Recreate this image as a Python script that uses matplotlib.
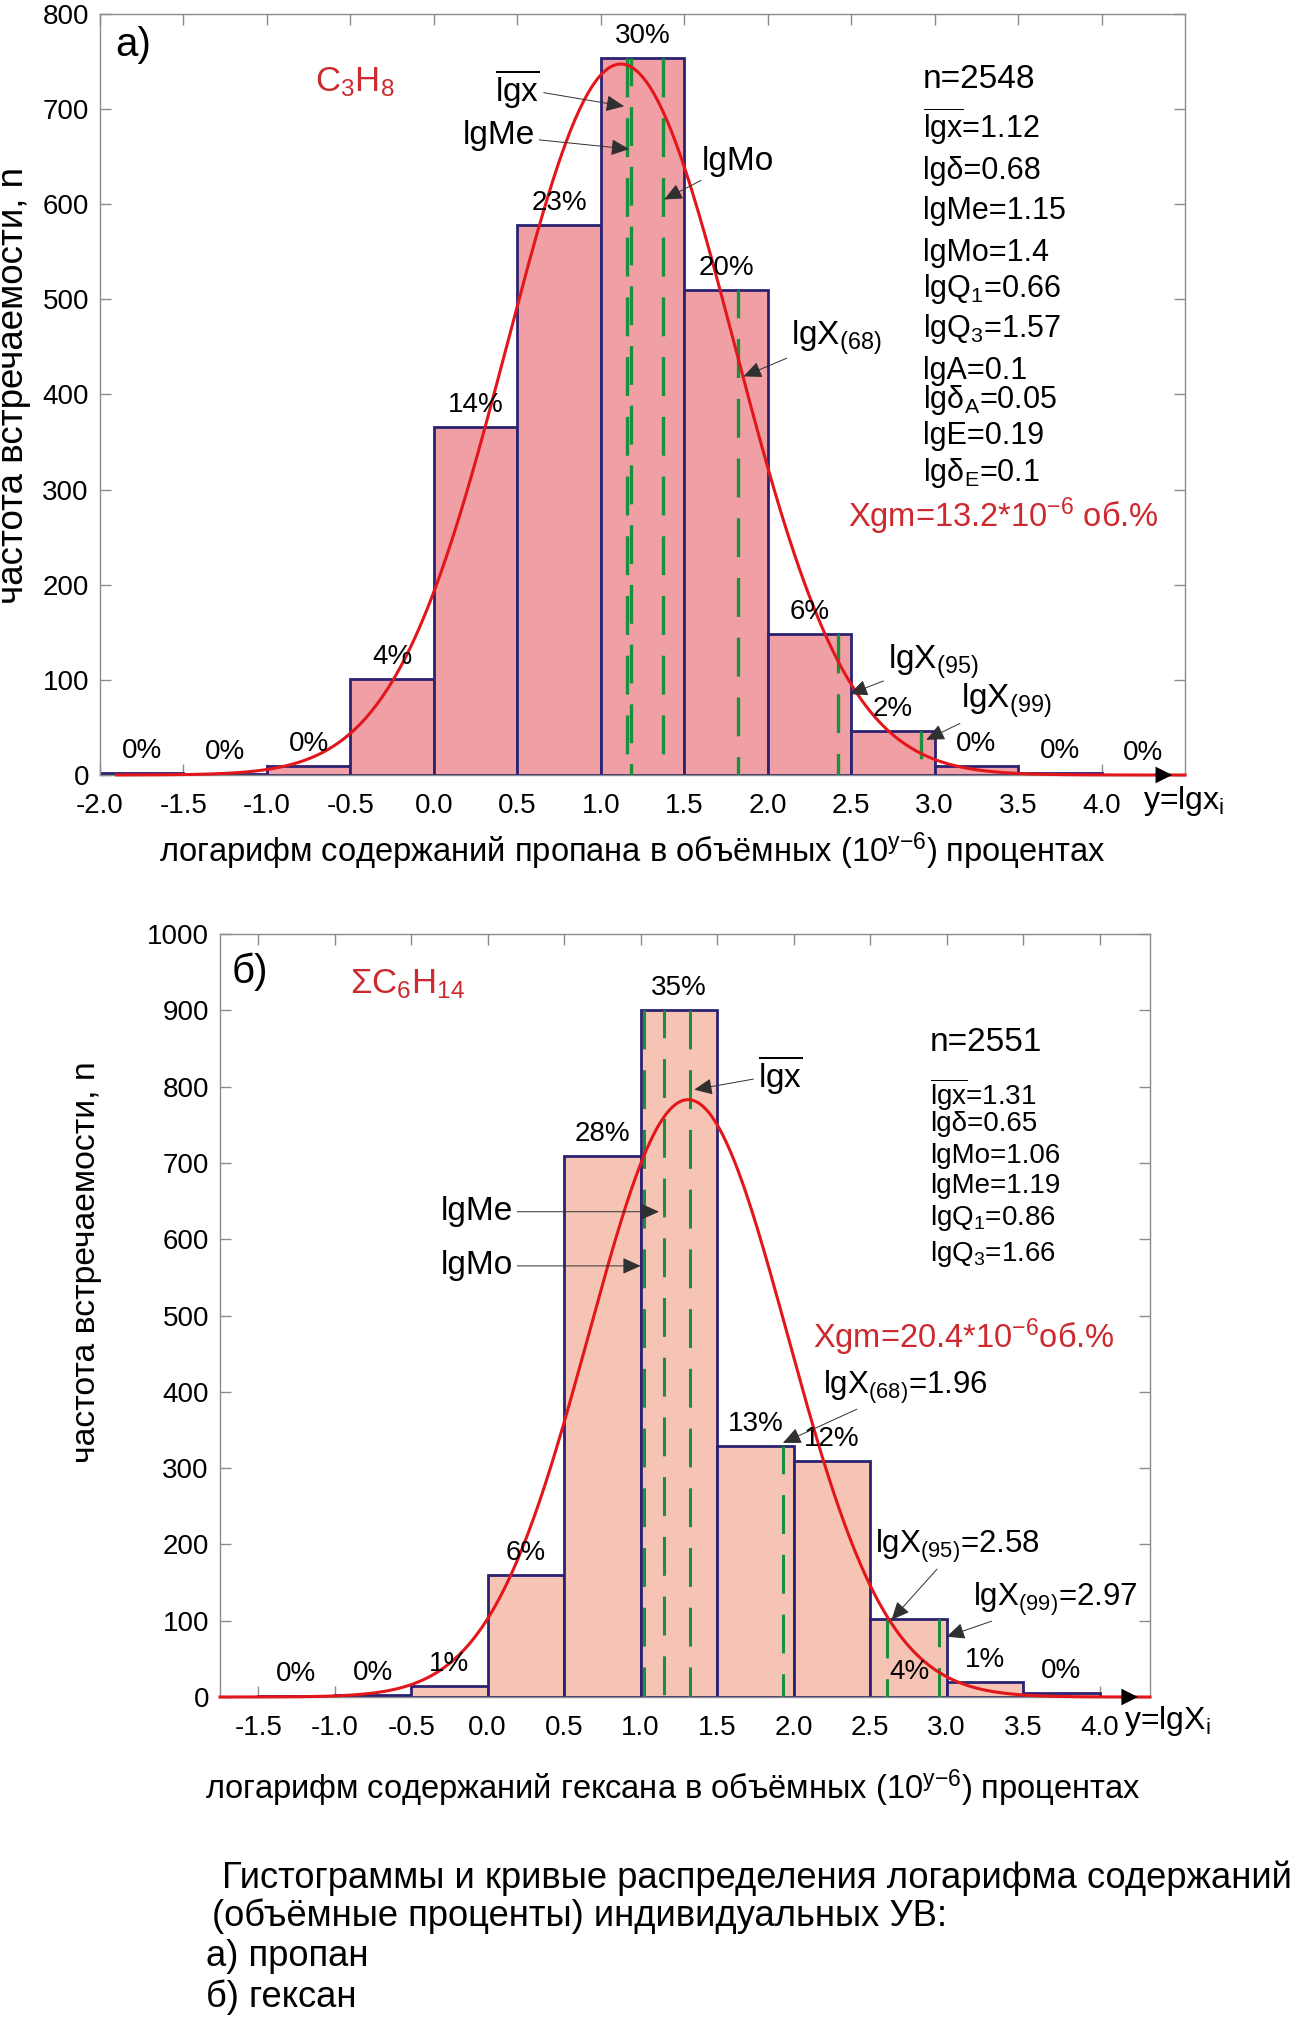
import numpy as np
import matplotlib.pyplot as plt

FONT = "Liberation Sans"
plt.rcParams["font.family"] = [FONT, "DejaVu Sans"]
plt.rcParams["mathtext.fontset"] = "custom"
plt.rcParams["mathtext.rm"] = FONT
plt.rcParams["mathtext.it"] = FONT
plt.rcParams["mathtext.default"] = "regular"
plt.rcParams["lines.scale_dashes"] = False

BIN_WIDTH = 0.5

# а) пропан
A_BINS = [-2.0, -1.5, -1.0, -0.5, 0.0, 0.5, 1.0, 1.5, 2.0, 2.5, 3.0, 3.5, 4.0]
A_COUNTS = [2, 1, 9, 101, 366, 578, 754, 510, 148, 46, 9, 2, 0]
A_PCT = ["0%", "0%", "0%", "4%", "14%", "23%", "30%", "20%", "6%", "2%", "0%", "0%", "0%"]
A_N, A_MEAN, A_SD = 2548, 1.12, 0.68
# lgx, lgMe, lgMo, lgX(68), lgX(95), lgX(99) as drawn
A_LINES = [1.16, 1.18, 1.37, 1.82, 2.42, 2.92]
A_STATS = ["n=2548", r"$\overline{lgx}$=1.12", "lgδ=0.68", "lgMe=1.15", "lgMo=1.4",
           "lgQ$_1$=0.66", "lgQ$_3$=1.57", "lgA=0.1", "lgδ$_A$=0.05", "lgE=0.19",
           "lgδ$_E$=0.1"]
A_XGM = "Xgm=13.2*10$^{{-}6}$ об.%"
A_XTICKS = [-2.0, -1.5, -1.0, -0.5, 0.0, 0.5, 1.0, 1.5, 2.0, 2.5, 3.0, 3.5, 4.0]
A_YTICKS = [0, 100, 200, 300, 400, 500, 600, 700, 800]

# б) гексан
B_BINS = [-1.5, -1.0, -0.5, 0.0, 0.5, 1.0, 1.5, 2.0, 2.5, 3.0, 3.5]
B_COUNTS = [1, 2, 14, 160, 709, 900, 329, 309, 102, 20, 5]
B_PCT = ["0%", "0%", "1%", "6%", "28%", "35%", "13%", "12%", "4%", "1%", "0%"]
B_N, B_MEAN, B_SD = 2551, 1.31, 0.65
# lgMo, lgMe, lgx, lgX(68), lgX(95), lgX(99) as drawn
B_LINES = [1.02, 1.15, 1.32, 1.93, 2.61, 2.95]
B_STATS = ["n=2551", r"$\overline{lgx}$=1.31", "lgδ=0.65", "lgMo=1.06", "lgMe=1.19",
           "lgQ$_1$=0.86", "lgQ$_3$=1.66"]
B_XGM = "Xgm=20.4*10$^{{-}6}$об.%"
B_XTICKS = [-1.5, -1.0, -0.5, 0.0, 0.5, 1.0, 1.5, 2.0, 2.5, 3.0, 3.5, 4.0]
B_YTICKS = [0, 100, 200, 300, 400, 500, 600, 700, 800, 900, 1000]

CAPTION = ["Гистограммы и кривые распределения логарифма содержаний",
           "(объёмные проценты) индивидуальных УВ:",
           "а) пропан",
           "б) гексан"]

EDGE = "#2b2272"
RED = "#e3161b"
DARKRED = "#cc2a2e"
GREEN = "#1a8f3c"
SPINE = "#8c8c8c"

W, H = 1290, 2017


def px_axes(left, top, right, bottom):
    return [left / W, 1 - bottom / H, (right - left) / W, (bottom - top) / H]


def pct_label(ax, x, y, p):
    ax.annotate(p, (x, y), xytext=(0, 16), textcoords="offset points",
                ha="center", va="center", fontsize=20, zorder=5)


def base_panel(ax, bins, counts, n, mean, sd, lines, xlim, ylim, xticks, yticks,
               fill, curve_from, green_lw):
    ax.bar(bins, counts, width=BIN_WIDTH, align="edge", color=fill,
           edgecolor=EDGE, linewidth=2.0, zorder=2)
    # normal curve for the printed n, mean and sigma
    x = np.linspace(curve_from, xlim[1], 500)
    y = n * BIN_WIDTH / (sd * np.sqrt(2 * np.pi)) * np.exp(-0.5 * ((x - mean) / sd) ** 2)
    # vertical dashed markers up to the bar they fall in
    for i, lx in enumerate(lines):
        k = int(np.searchsorted(bins, lx, side="right") - 1)
        ax.plot([lx, lx], [counts[k], 0], color=GREEN, lw=green_lw,
                linestyle=(8 * (i % 2), (28, 15)), zorder=3)
    ax.plot(x, y, color=RED, lw=2.2, zorder=4, clip_on=False)
    ax.set_xlim(*xlim)
    ax.set_ylim(*ylim)
    ax.set_xticks(xticks)
    ax.set_xticklabels([f"{t:.1f}" for t in xticks])
    ax.set_yticks(yticks)
    ax.tick_params(direction="in", length=8, width=1, color=SPINE, top=True, right=True,
                   labelsize=20)
    ax.tick_params(axis="x", pad=13)
    ax.tick_params(axis="y", pad=8)
    for s in ax.spines.values():
        s.set_color(SPINE)
        s.set_linewidth(1)
    ax.annotate("", xy=(xlim[1] - 0.06, 0), xytext=(xlim[1] - 0.3, 0),
                arrowprops=dict(arrowstyle="-|>", color="black", lw=0, mutation_scale=30),
                annotation_clip=False, zorder=6)


def arrow(ax, text, tip, pos, ha="center", size=24):
    ax.annotate(text, xy=tip, xytext=pos, ha=ha, va="center", fontsize=size, zorder=7,
                arrowprops=dict(arrowstyle="-|>,head_length=0.4,head_width=0.18",
                                color="#303030", lw=0.7, mutation_scale=28,
                                shrinkA=1, shrinkB=0))


fig = plt.figure(figsize=(W / 100, H / 100), dpi=100)

# ---------- panel а
ax = fig.add_axes(px_axes(100, 14, 1185, 775))
base_panel(ax, A_BINS, A_COUNTS, A_N, A_MEAN, A_SD, A_LINES, (-2.0, 4.5), (0, 800),
           A_XTICKS, A_YTICKS, "#f0a0a5", -1.9, 2.4)
for b, c, p in zip(A_BINS, A_COUNTS, A_PCT):
    pct_label(ax, b + BIN_WIDTH / 2, c, p)
ax.text(0.014, 0.959, "а)", transform=ax.transAxes, fontsize=29, ha="left", va="center")
ax.text(0.198, 0.91, "C$_3$H$_8$", transform=ax.transAxes, fontsize=25, color=DARKRED,
        ha="left", va="center")
stat_y = [731, 681, 635, 593, 549, 511, 469, 425, 394, 356, 317]
for s, yy in zip(A_STATS, stat_y):
    ax.text(2.93, yy, s, fontsize=24 if s.startswith("n=") else 22, ha="left", va="center")
ax.text(2.48, 272, A_XGM, fontsize=23.5, color=DARKRED, ha="left", va="center")
arrow(ax, r"$\overline{lgx}$", (1.14, 703), (0.50, 722))
arrow(ax, "lgMe", (1.17, 658), (0.39, 672))
arrow(ax, "lgMo", (1.38, 605), (1.82, 645))
arrow(ax, "lgX$_{(68)}$", (1.855, 419), (2.41, 460))
arrow(ax, "lgX$_{(95)}$", (2.49, 85), (2.99, 119))
arrow(ax, "lgX$_{(99)}$", (2.95, 37), (3.43, 78))
ax.text(4.25, -27, "y=lgx$_i$", fontsize=23, ha="left", va="center", clip_on=False)

# ---------- panel б
ax = fig.add_axes(px_axes(220, 934, 1150, 1697))
base_panel(ax, B_BINS, B_COUNTS, B_N, B_MEAN, B_SD, B_LINES, (-1.75, 4.33), (0, 1000),
           B_XTICKS, B_YTICKS, "#f6c4b5", -1.75, 2.2)
for b, c, p in zip(B_BINS, B_COUNTS, B_PCT):
    if p == "4%":
        # this one sits inside its bar
        ax.text(b + 0.26, 33, p, ha="center", va="center", fontsize=20, zorder=5)
    else:
        pct_label(ax, b + BIN_WIDTH / 2, c, p)
ax.text(0.012, 0.951, "б)", transform=ax.transAxes, fontsize=29, ha="left", va="center")
ax.text(0.14, 0.934, "ΣC$_6$H$_{14}$", transform=ax.transAxes, fontsize=25,
        color=DARKRED, ha="left", va="center")
stat_y = [858, 789, 751, 709, 670, 628, 581]
for s, yy in zip(B_STATS, stat_y):
    ax.text(2.89, yy, s, fontsize=24 if s.startswith("n=") else 20, ha="left", va="center")
ax.text(2.13, 472, B_XGM, fontsize=23.5, color=DARKRED, ha="left", va="center")
arrow(ax, r"$\overline{lgx}$", (1.35, 796), (1.91, 816))
arrow(ax, "lgMe", (1.12, 636), (-0.07, 636))
arrow(ax, "lgMo", (1.0, 565), (-0.07, 565))
arrow(ax, "lgX$_{(68)}$=1.96", (1.93, 333), (2.19, 406), ha="left", size=22.5)
arrow(ax, "lgX$_{(95)}$=2.58", (2.64, 101), (2.53, 197), ha="left", size=22.5)
arrow(ax, "lgX$_{(99)}$=2.97", (3.0, 79), (3.17, 128), ha="left", size=22.5)
ax.text(4.16, -31, "y=lgX$_i$", fontsize=23, ha="left", va="center", clip_on=False)

# ---------- axis titles and caption
fig.text(14 / W, 1 - 385 / H, "частота встречаемости, n", rotation=90, fontsize=26.5,
         ha="center", va="center")
fig.text(632 / W, 1 - 851 / H,
         "логарифм содержаний пропана в объёмных (10$^{y{-}6}$) процентах",
         fontsize=23.5, ha="center", va="center")
fig.text(87 / W, 1 - 1262 / H, "частота встречаемости, n", rotation=90, fontsize=24.3,
         ha="center", va="center")
fig.text(673 / W, 1 - 1788 / H,
         "логарифм содержаний гексана в объёмных (10$^{y{-}6}$) процентах",
         fontsize=23.5, ha="center", va="center")
for line, (lx, ly) in zip(CAPTION, [(222, 1878), (212, 1916), (206, 1956), (206, 1997)]):
    fig.text(lx / W, 1 - ly / H, line, fontsize=26.2, ha="left", va="center")

fig.savefig("out.png", dpi=100)
